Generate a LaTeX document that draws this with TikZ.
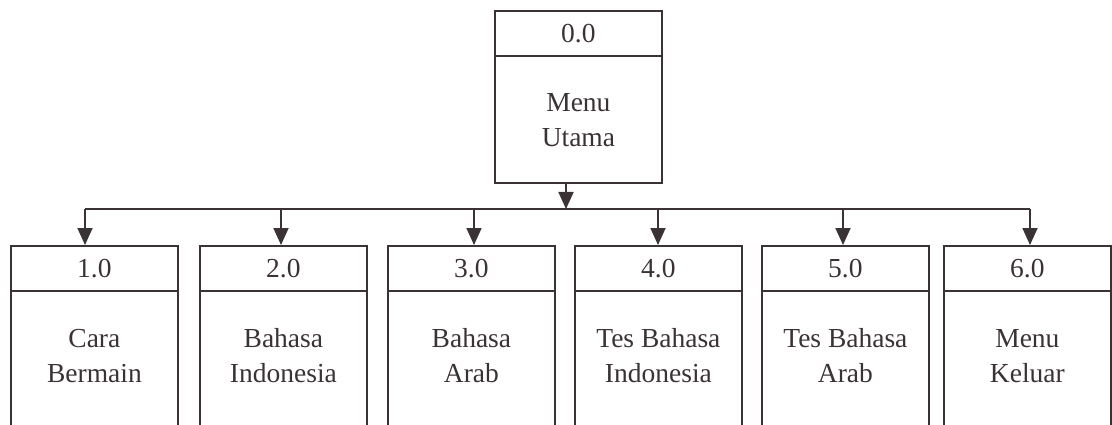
\documentclass[tikz,border=0pt]{standalone}
\usepackage{fontspec}
\setmainfont{Liberation Serif}
\usetikzlibrary{arrows.meta}
\definecolor{ink}{HTML}{3B3236}
\tikzset{
  hdr/.style={draw=ink, line width=1.8pt, rectangle, minimum width=167pt, minimum height=45pt, anchor=north west, inner sep=0pt, text=ink, font=\fontsize{27.5}{32}\selectfont},
  bodybox/.style={draw=ink, line width=1.8pt, rectangle, minimum width=167pt, anchor=north west, inner sep=0pt},
  bodytxt/.style={text=ink, align=center, inner sep=0pt, font=\fontsize{27.5}{35}\selectfont},
  conn/.style={draw=ink, line width=1.8pt},
  arr/.style={conn, -{Triangle[width=15pt,length=17pt]}},
}
\begin{document}
\begin{tikzpicture}[x=1pt,y=-1pt]
\useasboundingbox (0,0) rectangle (1112,425);
\clip (0,0) rectangle (1112,425);
% top box
\node[hdr] (h0) at (494,10) {0.0};
\node[bodybox, minimum height=127pt] (b0) at (494,55) {};
\node[bodytxt] (t0) at ([yshift=-1pt]b0.center) {Menu\\Utama};
% bottom boxes
\foreach \i/\x/\num/\txt in {1/10/1.0/{Cara\\Bermain}, 2/199/2.0/{Bahasa\\Indonesia}, 3/387/3.0/{Bahasa\\Arab}, 4/574/4.0/{Tes Bahasa\\Indonesia}, 5/761/5.0/{Tes Bahasa\\Arab}, 6/943/6.0/{Menu\\Keluar}}{
  \node[hdr] (h\i) at (\x,245) {\num};
  \node[bodybox, minimum height=140pt] (b\i) at (\x,290) {};
  \node[bodytxt] (t\i) at ([yshift=5pt]b\i.center) {\txt};
}
% bus
\coordinate (top) at (566,182);
\coordinate (busc) at (566,209);
\coordinate (bus1) at (85,209);
\coordinate (bus2) at (281,209);
\coordinate (bus3) at (474,209);
\coordinate (bus4) at (658,209);
\coordinate (bus5) at (843,209);
\coordinate (bus6) at (1030,209);
\draw[arr] (top) -- (busc);
\draw[conn] (bus1) -- (bus6);
\foreach \i in {1,...,6}{
  \draw[arr] (bus\i) -- (bus\i |- h\i.north);
}
\end{tikzpicture}
\end{document}
